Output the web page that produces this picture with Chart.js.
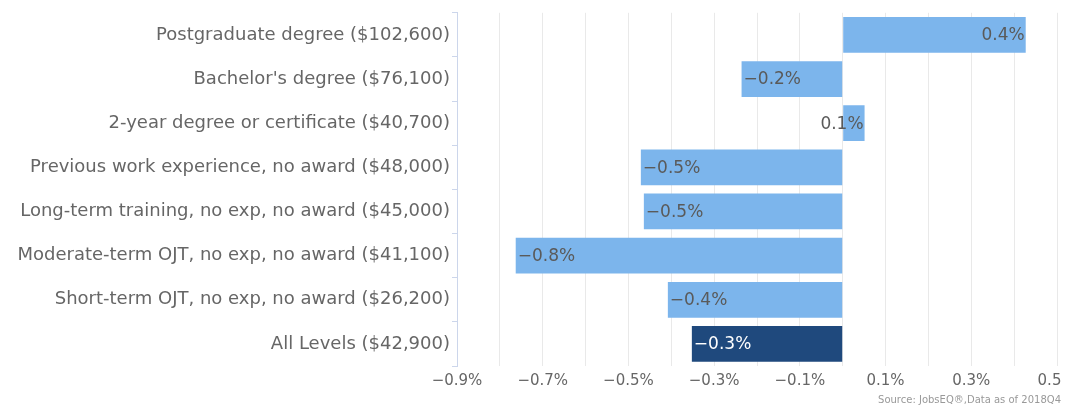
<!DOCTYPE html>
<html>
<head>
<meta charset="utf-8">
<script src="https://cdn.jsdelivr.net/npm/chart.js@4.4.1/dist/chart.umd.min.js"></script>
<style>
  html, body { margin: 0; padding: 0; background: #fff; }
</style>
</head>
<body>
<canvas id="chart" width="1065" height="407"></canvas>
<script>
// Wage growth by education level
const categories = [
    'Postgraduate degree ($102,600)',
    "Bachelor's degree ($76,100)",
    '2-year degree or certificate ($40,700)',
    'Previous work experience, no award ($48,000)',
    'Long-term training, no exp, no award ($45,000)',
    'Moderate-term OJT, no exp, no award ($41,100)',
    'Short-term OJT, no exp, no award ($26,200)',
    'All Levels ($42,900)'
];
const growth = [0.427, -0.236, 0.051, -0.471, -0.464, -0.763, -0.408, -0.352];
const growthLabels = ['0.4%', '\u22120.2%', '0.1%', '\u22120.5%', '\u22120.5%', '\u22120.8%', '\u22120.4%', '\u22120.3%'];
const barColors = ['#7cb5ec', '#7cb5ec', '#7cb5ec', '#7cb5ec', '#7cb5ec', '#7cb5ec', '#7cb5ec', '#1f497d'];
const xTickValues = [-0.9, -0.8, -0.7, -0.6, -0.5, -0.4, -0.3, -0.2, -0.1, 0, 0.1, 0.2, 0.3, 0.4, 0.5];
const xTickLabels = ['\u22120.9%', '', '\u22120.7%', '', '\u22120.5%', '', '\u22120.3%', '', '\u22120.1%', '', '0.1%', '', '0.3%', '', '0.5'];
const sourceText = 'Source: JobsEQ\u00ae,Data as of 2018Q4';

const FONT = '"DejaVu Sans", sans-serif';

// labels drawn inside the far end of each bar
const barLabels = {
    id: 'barLabels',
    afterDatasetsDraw(chart) {
        const ctx = chart.ctx;
        const meta = chart.getDatasetMeta(0);
        ctx.save();
        ctx.font = '17px ' + FONT;
        ctx.textBaseline = 'middle';
        meta.data.forEach((bar, i) => {
            ctx.fillStyle = i === growth.length - 1 ? '#ffffff' : '#5a5a5a';
            if (growth[i] < 0) {
                ctx.textAlign = 'left';
                ctx.fillText(growthLabels[i], bar.x + 2, bar.y + 1);
            } else {
                ctx.textAlign = 'right';
                ctx.fillText(growthLabels[i], bar.x - 1, bar.y + 1);
            }
        });
        ctx.restore();
    }
};

const sourceNote = {
    id: 'sourceNote',
    afterDraw(chart) {
        const ctx = chart.ctx;
        ctx.save();
        ctx.font = '10px ' + FONT;
        ctx.fillStyle = '#999999';
        ctx.textAlign = 'right';
        ctx.textBaseline = 'bottom';
        ctx.fillText(sourceText, 1061, 405);
        ctx.restore();
    }
};

new Chart(document.getElementById('chart').getContext('2d'), {
    type: 'bar',
    data: {
        labels: categories,
        datasets: [{
            data: growth,
            backgroundColor: barColors,
            borderWidth: 0,
            barPercentage: 1,
            categoryPercentage: 0.81
        }]
    },
    options: {
        indexAxis: 'y',
        responsive: false,
        devicePixelRatio: 1,
        animation: false,
        layout: { padding: { top: 12, right: 8, left: 0, bottom: 0 } },
        plugins: { legend: { display: false }, tooltip: { enabled: false } },
        scales: {
            x: {
                type: 'linear',
                min: -0.9,
                max: 0.5,
                afterBuildTicks: (scale) => { scale.ticks = xTickValues.map(v => ({ value: v })); },
                afterFit: (scale) => { scale.height = 41; scale.paddingLeft = 0; scale.paddingRight = 0; },
                ticks: {
                    autoSkip: false,
                    maxRotation: 0,
                    padding: 6,
                    color: '#666666',
                    font: { family: FONT, size: 15 },
                    // last label sits against the right edge, nudge it in a bit
                    callback: (v, i) => i === xTickLabels.length - 1 ? xTickLabels[i] + '\u2002\u2002' : xTickLabels[i]
                },
                grid: {
                    drawTicks: false,
                    color: (c) => c.index === 0 ? 'rgba(0,0,0,0)' : '#e9e9e9'
                },
                border: { display: false }
            },
            y: {
                offset: true,
                afterFit: (scale) => { scale.width = 457; },
                ticks: {
                    padding: 2,
                    color: '#666666',
                    font: { family: FONT, size: 18 }
                },
                grid: {
                    offset: true,
                    drawOnChartArea: false,
                    tickLength: 5,
                    color: '#ccd6eb'
                },
                border: { color: '#ccd6eb' }
            }
        }
    },
    plugins: [barLabels, sourceNote]
});
</script>
</body>
</html>
